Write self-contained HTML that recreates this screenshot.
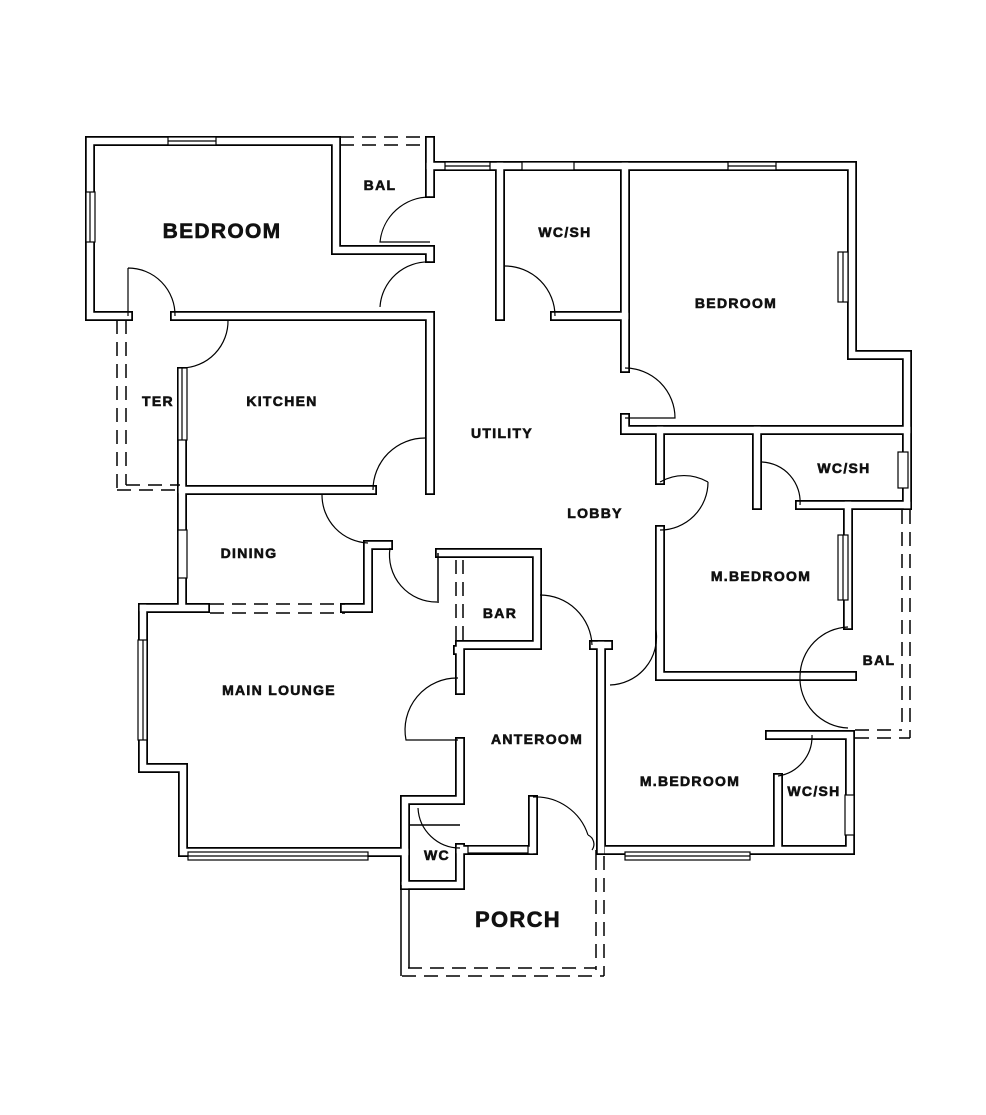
<!DOCTYPE html>
<html><head><meta charset="utf-8"><style>
html,body{margin:0;padding:0;background:#fff}
svg{display:block}
text{font-family:"Liberation Sans",sans-serif;font-weight:bold;fill:#111;stroke:#111;stroke-width:0.6;letter-spacing:1.3px}
</style></head><body>
<svg width="986" height="1115" viewBox="0 0 986 1115" xmlns="http://www.w3.org/2000/svg">
<rect width="986" height="1115" fill="#fff"/>
<defs>
<g id="walls" fill="none" stroke-linejoin="miter" stroke-linecap="square">
<polyline points="128,316 90,316 90,141 336,141 336,250 430,250 430,258"/>
<polyline points="430,141 430,193"/>
<polyline points="175,316 430,316 430,490"/>
<polyline points="182,372 182,605"/>
<polyline points="182,490 372,490"/>
<polyline points="345,608 368,608 368,545 388,545"/>
<polyline points="143,608 205,608"/>
<polyline points="143,608 143,768 183,768 183,852 405,852"/>
<polyline points="405,885 405,800 460,800 460,742"/>
<polyline points="460,690 460,650 458,650"/>
<polyline points="440,553 537,553 537,645 460,645"/>
<polyline points="405,885 460,885 460,848"/>
<polyline points="460,850 530,850"/>
<polyline points="533,800 533,850"/>
<polyline points="601,645 601,850"/>
<polyline points="594,645 608,645"/>
<polyline points="430,166 852,166 852,355 907,355 907,505"/>
<polyline points="500,166 500,316"/>
<polyline points="555,316 625,316"/>
<polyline points="625,166 625,368"/>
<polyline points="625,418 625,430 907,430"/>
<polyline points="660,430 660,480"/>
<polyline points="660,530 660,676 852,676"/>
<polyline points="757,430 757,505"/>
<polyline points="800,505 907,505"/>
<polyline points="848,505 848,625"/>
<polyline points="770,735 850,735 850,850 608,850"/>
<polyline points="778,778 778,845"/>
</g>
</defs>
<use href="#walls" stroke="#000" stroke-width="10"/>
<use href="#walls" stroke="#fff" stroke-width="6.5"/>
<g stroke="#000" stroke-width="1.2" fill="#fff">
<rect x="168" y="137" width="48" height="8"/><line x1="168" y1="141" x2="216" y2="141"/>
<rect x="86" y="192" width="9" height="50"/><line x1="90" y1="192" x2="90" y2="242"/>
<rect x="445" y="162" width="45" height="8"/><line x1="445" y1="166" x2="490" y2="166"/>
<rect x="522" y="162" width="52" height="8"/>
<rect x="728" y="162" width="48" height="8"/><line x1="728" y1="166" x2="776" y2="166"/>
<rect x="838" y="252" width="10" height="50"/><line x1="843" y1="252" x2="843" y2="302"/>
<rect x="898" y="452" width="10" height="36"/>
<rect x="838" y="535" width="10" height="65"/><line x1="843" y1="535" x2="843" y2="600"/>
<rect x="178" y="368" width="9" height="72"/><line x1="182" y1="368" x2="182" y2="440"/>
<rect x="178" y="530" width="9" height="48"/>
<rect x="138" y="640" width="9" height="100"/><line x1="143" y1="640" x2="143" y2="740"/>
<rect x="188" y="852" width="180" height="8"/><line x1="188" y1="856" x2="368" y2="856"/>
<rect x="468" y="846" width="60" height="7"/>
<rect x="625" y="852" width="125" height="8"/><line x1="625" y1="856" x2="750" y2="856"/>
<rect x="845" y="795" width="9" height="40"/>
</g>
<g stroke="#000" stroke-width="1.5" stroke-dasharray="14,8" fill="none">
<line x1="340" y1="137" x2="426" y2="137"/><line x1="340" y1="145" x2="426" y2="145"/>
<line x1="117" y1="320" x2="117" y2="490"/><line x1="126" y1="320" x2="126" y2="485"/>
<line x1="117" y1="490" x2="180" y2="490"/><line x1="126" y1="485" x2="180" y2="485"/>
<line x1="210" y1="604" x2="345" y2="604"/><line x1="210" y1="613" x2="345" y2="613"/>
<line x1="456" y1="560" x2="456" y2="640"/><line x1="463" y1="560" x2="463" y2="640"/>
<line x1="902" y1="510" x2="902" y2="730"/><line x1="910" y1="510" x2="910" y2="738"/>
<line x1="855" y1="730" x2="902" y2="730"/><line x1="855" y1="738" x2="910" y2="738"/>
<line x1="596" y1="856" x2="596" y2="970"/><line x1="604" y1="856" x2="604" y2="976"/>
<line x1="408" y1="968" x2="596" y2="968"/><line x1="402" y1="976" x2="604" y2="976"/>
</g>
<g stroke="#000" stroke-width="1.5" fill="none">
<line x1="438" y1="553" x2="438" y2="603"/>
<line x1="401" y1="885" x2="401" y2="976"/><line x1="409" y1="890" x2="409" y2="968"/>
<line x1="596" y1="850" x2="596" y2="856"/>
<line x1="410" y1="825" x2="460" y2="825"/>
</g>
<g stroke="#000" stroke-width="1.2" fill="none">
<path d="M430,197 A50,50 0 0 0 380,242 L430,242"/>
<path d="M430,262 A48,48 0 0 0 380,307"/>
<path d="M128,268 A47,47 0 0 1 175,316 M128,268 L128,316"/>
<path d="M228,320 A47,47 0 0 1 182,368"/>
<path d="M425,438 A52,52 0 0 0 373,490"/>
<path d="M322,495 A48,48 0 0 0 368,543"/>
<path d="M390,548 A47,47 0 0 0 437,602"/>
<path d="M505,266 A50,50 0 0 1 555,316"/>
<path d="M625,368 A50,50 0 0 1 675,418 L625,418"/>
<path d="M660,482 A48,48 0 0 1 708,482 M708,482 A48,48 0 0 1 660,530"/>
<path d="M762,462 A40,40 0 0 1 800,505"/>
<path d="M848,627 A50,50 0 0 0 800,676 M800,676 A50,50 0 0 0 848,728"/>
<path d="M812,735 A40,40 0 0 1 778,776"/>
<path d="M540,595 A52,52 0 0 1 592,645"/>
<path d="M656,630 A48,48 0 0 1 610,685"/>
<path d="M458,678 A52,52 0 0 0 406,740 L458,740"/>
<path d="M418,808 A42,42 0 0 0 460,848"/>
<path d="M533,797 A55,55 0 0 1 588,835 M592,850 A10,10 0 0 0 588,835"/>
</g>
<text x="222" y="238" font-size="21" text-anchor="middle">BEDROOM</text>
<text x="380" y="190" font-size="14" text-anchor="middle">BAL</text>
<text x="565" y="237" font-size="14" text-anchor="middle">WC/SH</text>
<text x="736" y="308" font-size="14" text-anchor="middle">BEDROOM</text>
<text x="282" y="406" font-size="14" text-anchor="middle">KITCHEN</text>
<text x="158" y="406" font-size="14" text-anchor="middle">TER</text>
<text x="502" y="438" font-size="14" text-anchor="middle">UTILITY</text>
<text x="844" y="473" font-size="14" text-anchor="middle">WC/SH</text>
<text x="595" y="518" font-size="14" text-anchor="middle">LOBBY</text>
<text x="249" y="558" font-size="14" text-anchor="middle">DINING</text>
<text x="761" y="581" font-size="14" text-anchor="middle">M.BEDROOM</text>
<text x="500" y="618" font-size="14" text-anchor="middle">BAR</text>
<text x="879" y="665" font-size="14" text-anchor="middle">BAL</text>
<text x="279" y="695" font-size="14" text-anchor="middle">MAIN LOUNGE</text>
<text x="537" y="744" font-size="14" text-anchor="middle">ANTEROOM</text>
<text x="690" y="786" font-size="14" text-anchor="middle">M.BEDROOM</text>
<text x="814" y="796" font-size="14" text-anchor="middle">WC/SH</text>
<text x="437" y="860" font-size="14" text-anchor="middle">WC</text>
<text x="518" y="927" font-size="22" text-anchor="middle">PORCH</text>
</svg>
</body></html>
